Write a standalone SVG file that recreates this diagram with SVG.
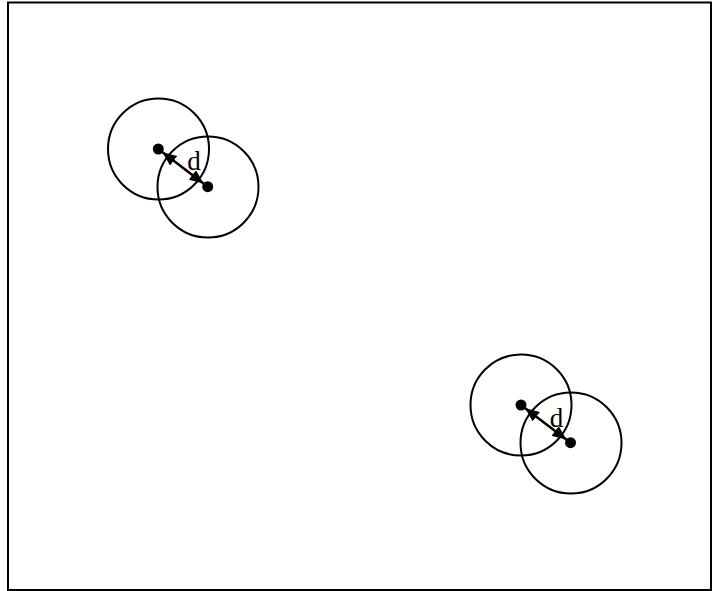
<svg xmlns="http://www.w3.org/2000/svg" width="712" height="591" viewBox="0 0 712 591">
<style>
.c{fill:none;stroke:#000;stroke-width:2}
.dot{fill:#000}
.ln{stroke:#000;stroke-width:2.5;fill:none}
.lbl{font-family:"Liberation Serif",serif;font-size:27px;fill:#000}
</style>
<defs>
<marker id="ah" viewBox="0 0 14 12" refX="14" refY="6" markerWidth="14" markerHeight="12" orient="auto-start-reverse" markerUnits="userSpaceOnUse">
<path d="M0,0 L14,6 L0,12 z" fill="#000"/>
</marker>
</defs>
<rect x="8" y="2.5" width="703" height="587.5" fill="#fff" stroke="#000" stroke-width="2"/>
<g id="pair1">
<circle class="c" cx="158.5" cy="149" r="50.5"/>
<circle class="c" cx="208" cy="187" r="50.5"/>
<circle class="dot" cx="158.3" cy="149" r="5.5"/>
<circle class="dot" cx="207.7" cy="186.7" r="5.5"/>
</g>
<g id="pair2">
<circle class="c" cx="521" cy="405" r="50.5"/>
<circle class="c" cx="571" cy="443" r="50.5"/>
<circle class="dot" cx="521" cy="405" r="5.5"/>
<circle class="dot" cx="570.5" cy="442.7" r="5.5"/>
</g>
<g id="connectors">
<line class="ln" x1="162.5" y1="152.3" x2="203.5" y2="183.5" marker-start="url(#ah)" marker-end="url(#ah)"/>
<line class="ln" x1="525.2" y1="408.3" x2="566.3" y2="439.5" marker-start="url(#ah)" marker-end="url(#ah)"/>
</g>
<text class="lbl" x="194" y="170" text-anchor="middle">d</text>
<text class="lbl" x="556.5" y="427" text-anchor="middle">d</text>
</svg>
